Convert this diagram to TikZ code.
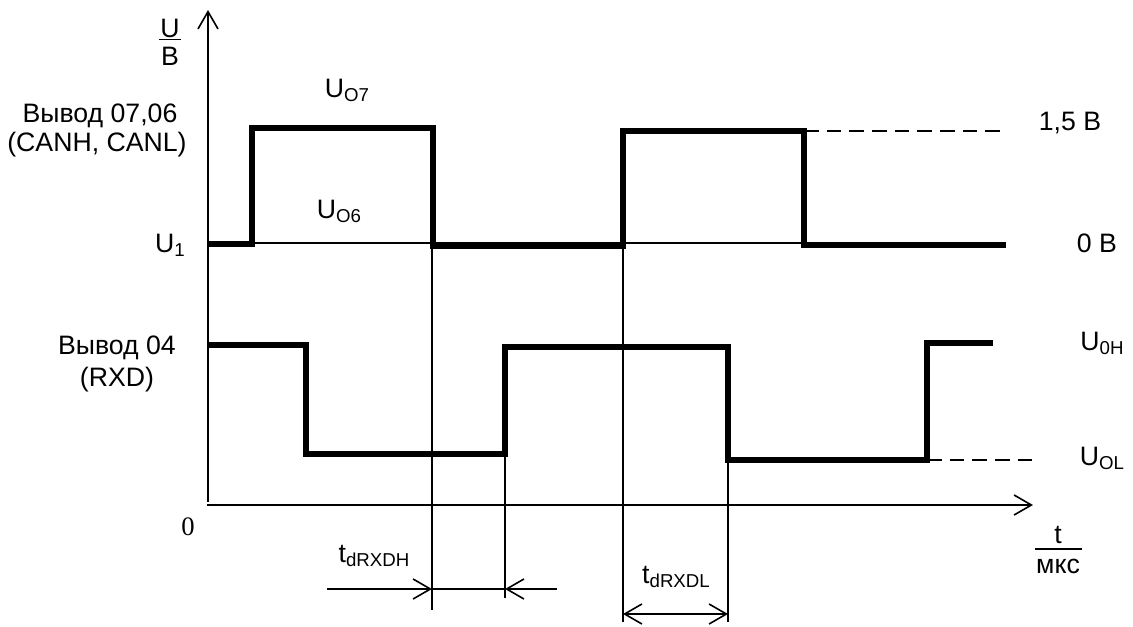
\documentclass[tikz,border=0pt]{standalone}
\usepackage{fontspec}
\setmainfont{Liberation Sans}
\newfontfamily\zerofont{Liberation Serif}
\usetikzlibrary{arrows.meta}
\newcommand\lsub[1]{\raisebox{-0.35ex}{\fontsize{14}{14}\selectfont #1}}
\begin{document}
\begin{tikzpicture}[x=0.75pt,y=-0.75pt,
  wave/.style={line width=3.8pt, line join=miter, line cap=butt},
  thinline/.style={line width=1.1pt},
  tip/.tip={Straight Barb[length=13pt,width=15pt,line width=1.2pt]},
  axis/.style={line width=1.3pt, -tip},
  dim/.style={line width=1.1pt},
  lbl/.style={anchor=base, inner sep=0pt, font=\fontsize{20}{23}\selectfont},
  dashline/.style={line width=1.1pt, dash pattern=on 11pt off 6pt}]
\useasboundingbox (0,0) rectangle (1133,626);

% axes
\coordinate (yb) at (208,502); \coordinate (yt) at (208,10);
\draw[axis] (yb) -- (yt);
\coordinate (xl) at (207,505); \coordinate (xr) at (1033,505);
\draw[axis] (xl) -- (xr);

% U1 reference line
\draw[thinline] (208,243) -- (804,243);

% CAN waveform
\draw[wave] (208,244) -- (252,244) -- (252,128) -- (433,128) -- (433,246) -- (623,246) -- (623,131) -- (804,131) -- (804,245) -- (1006,245);
% RXD waveform
\draw[wave] (208,345) -- (306,345) -- (306,454) -- (505,454) -- (505,347) -- (728,347) -- (728,460) -- (927,460) -- (927,343) -- (993,343);

% dashed levels
\draw[dashline] (804,131) -- (1005,131);
\draw[dashline] (927,460) -- (1032,460);

% vertical markers
\draw[thinline] (432,246) -- (432,610);
\draw[thinline] (505,454) -- (505,598);
\draw[thinline] (623,246) -- (623,622);
\draw[thinline] (728,460) -- (728,622);

% timing dimensions
\coordinate (h1) at (327,589); \coordinate (h2) at (432,589);
\coordinate (h3) at (505,589); \coordinate (h4) at (557,589);
\draw[dim,-tip] (h1) -- (h2);
\draw[dim] (h2) -- (h3);
\draw[dim,-tip] (h4) -- (h3);
\coordinate (l1) at (623,614); \coordinate (l2) at (728,614);
\draw[dim,tip-tip] (l1) -- (l2);

% axis unit labels
\node[lbl] (uu) at (170,37) {U};
\draw[thinline] (159,39.5) -- (181,39.5);
\node[lbl] (bb) at (170,65) {В};
\node[lbl] (tt) at (1058,543) {t};
\draw[thinline] (1035,549) -- (1082,549);
\node[lbl] (mks) at (1058,573) {мкс};

% labels
\node[lbl] (v0706) at (100,122) {Вывод 07,06};
\node[lbl] (can) at (97,151) {(CANH, CANL)};
\node[lbl] (u1) at (170,252) {U\lsub{1}};
\node[lbl] (v04) at (117,354) {Вывод 04};
\node[lbl] (rxd) at (117,386) {(RXD)};
\node[lbl, font=\zerofont\fontsize{20}{23}\selectfont] (zero) at (188,535) {0};
\node[lbl] (uo7) at (347,97) {U\lsub{O7}};
\node[lbl] (uo6) at (339,218) {U\lsub{O6}};
\node[lbl] (v15) at (1070,130) {1,5 В};
\node[lbl] (v0) at (1097,252) {0 В};
\node[lbl] (u0h) at (1102,350) {U\lsub{0H}};
\node[lbl] (uol) at (1102,465) {U\lsub{OL}};
\node[lbl] (tdh) at (374,562) {t\lsub{dRXDH}};
\node[lbl] (tdl) at (676,583) {t\lsub{dRXDL}};
\end{tikzpicture}
\end{document}
